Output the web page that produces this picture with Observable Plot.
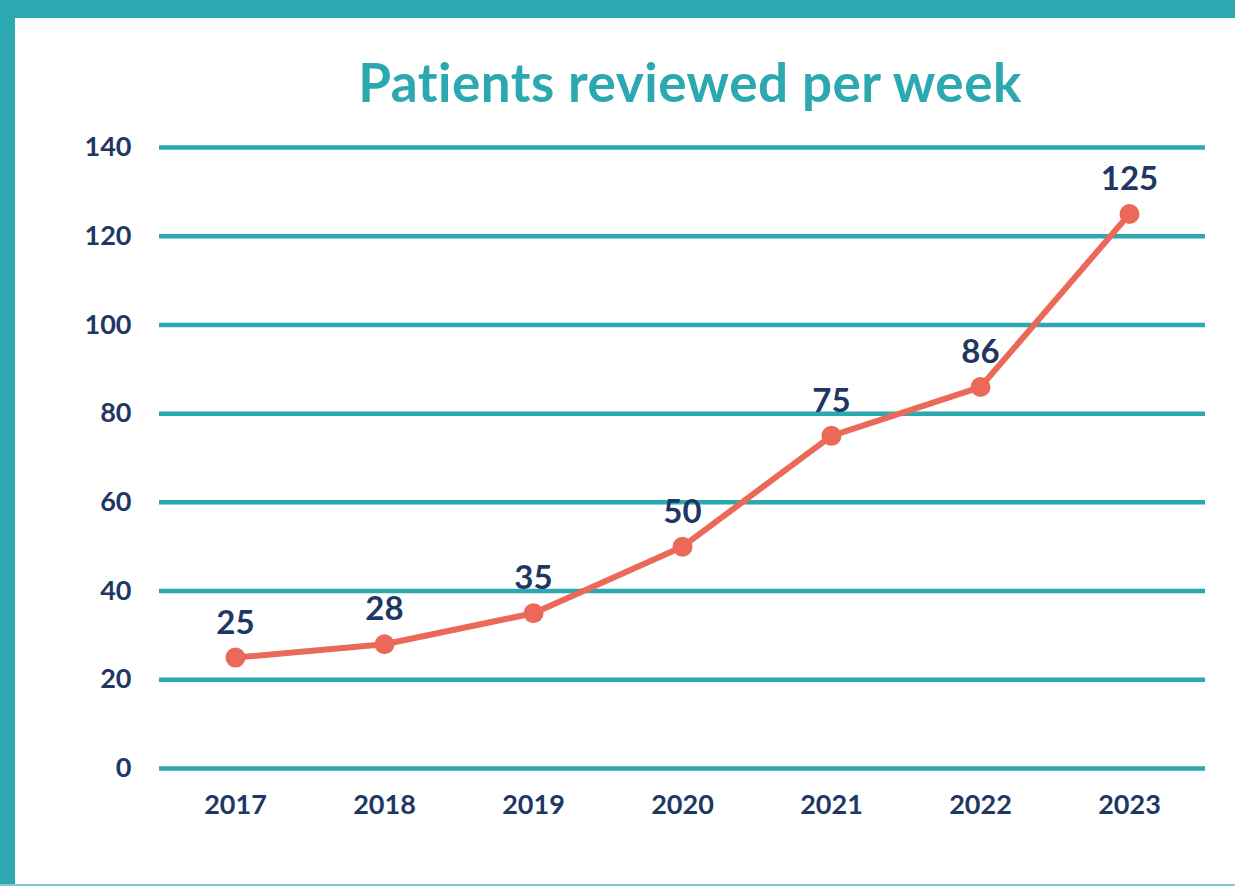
<!DOCTYPE html>
<html>
<head>
<meta charset="utf-8">
<script src="https://cdn.jsdelivr.net/npm/d3@7"></script>
<script src="https://cdn.jsdelivr.net/npm/@observablehq/plot@0.6"></script>
<style>
  html, body { margin: 0; padding: 0; background: #ffffff; }
  #wrap { position: relative; width: 1235px; height: 886px; overflow: hidden; background: #fff; font-family: Lato, "Open Sans", sans-serif; }
  #topbar { position: absolute; left: 0; top: 0; width: 1235px; height: 18px; background: #2ba8b0; }
  #leftbar { position: absolute; left: 0; top: 0; width: 15px; height: 886px; background: #2ba8b0; }
  #bottombar { position: absolute; left: 0; bottom: 0; width: 1235px; height: 2px; background: #7fcbd0; }
  #title { position: absolute; left: 0; top: 55px; width: 1235px; padding-left: 145px; box-sizing: border-box; text-align: center; font-family: Lato, sans-serif; font-weight: 700; font-size: 53px; letter-spacing: 0.5px; color: #2ba8b0; line-height: 1; margin: 0; }
  #chart { position: absolute; left: 0; top: 0; }
</style>
</head>
<body>
<div id="wrap">
  <div id="chart"></div>
  <div id="topbar"></div>
  <div id="leftbar"></div>
  <div id="bottombar"></div>
  <h1 id="title">Patients reviewed per week</h1>
</div>
<script>
const years = ["2017", "2018", "2019", "2020", "2021", "2022", "2023"];
const patients = [25, 28, 35, 50, 75, 86, 125];
const yTicks = [0, 20, 40, 60, 80, 100, 120, 140];

const data = years.map((year, i) => ({year, value: patients[i]}));

const teal = "#2ba8b0";
const navy = "#1e3763";
const coral = "#ea6959";

const chart = Plot.plot({
  width: 1235,
  height: 886,
  marginLeft: 159,
  marginRight: 30,
  marginTop: 147,
  marginBottom: 118,
  style: {fontFamily: "Lato, sans-serif", background: "transparent"},
  x: {type: "point", domain: years, padding: 0.5, label: null},
  y: {domain: [0, 140], label: null},
  marks: [
    Plot.ruleY(yTicks, {stroke: teal, strokeWidth: 4.5}),
    Plot.axisY({ticks: yTicks, tickSize: 0, tickPadding: 28, fontSize: 27, fontWeight: 700, fill: navy, label: null}),
    Plot.axisX({tickSize: 0, tickPadding: 26, fontSize: 27, fontWeight: 700, fill: navy, label: null}),
    Plot.line(data, {x: "year", y: "value", stroke: coral, strokeWidth: 6, strokeLinejoin: "round", strokeLinecap: "round"}),
    Plot.dot(data, {x: "year", y: "value", r: 10, fill: coral, stroke: "none"}),
    Plot.text(data, {x: "year", y: "value", text: d => String(d.value), dy: -24, lineAnchor: "bottom", fontSize: 33, fontWeight: 700, fill: navy})
  ]
});
document.getElementById("chart").appendChild(chart);
</script>
</body>
</html>
